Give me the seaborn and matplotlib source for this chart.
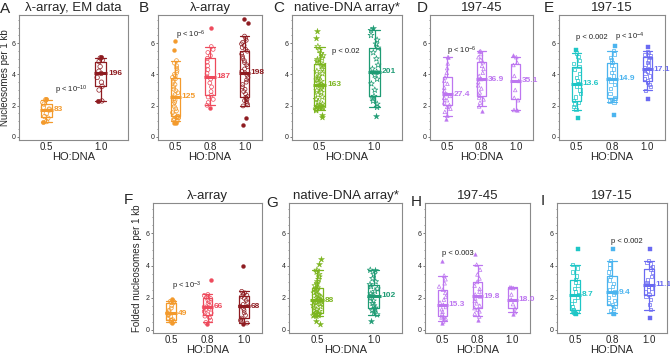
import numpy as np
import pandas as pd
import matplotlib.pyplot as plt
from matplotlib.ticker import MultipleLocator
import seaborn as sns

sns.set_style('white')
plt.rcParams['font.family'] = ['Liberation Sans', 'DejaVu Sans']
plt.rcParams['mathtext.default'] = 'regular'
np.random.seed(3)

# ---------------- data (nucleosomes per 1 kb) ----------------
ratios2 = ['0.5', '1.0']
ratios3 = ['0.5', '0.8', '1.0']

# A: lambda-array, EM data
a_05 = [0.97, 0.98, 1.2, 1.3, 1.5, 1.72, 1.78, 1.9, 2.1, 2.2, 2.38, 2.42]
a_10 = [2.29, 2.3, 3.0, 3.24, 3.5, 3.8, 4.06, 4.2, 4.5, 4.82, 4.9, 5.05, 5.12]
a_n = ['83', '196']

# B: lambda-array
b_05 = [0.88, 0.92, 1.0, 1.05, 1.1, 1.15, 1.2, 1.24, 1.27, 1.3, 1.33, 1.42, 1.55, 1.66,
        1.8, 1.95, 2.1, 2.22, 2.35, 2.45, 2.56, 2.7, 2.82, 2.95, 3.05, 3.2, 3.35, 3.5,
        3.62, 3.72, 3.8, 3.9, 4.0, 4.12, 4.25, 4.4, 4.55, 4.72, 4.88, 5.53, 6.13]
b_08 = [1.87, 2.02, 2.2, 2.4, 2.55, 2.67, 2.9, 3.2, 3.45, 3.7, 3.85, 4.05, 4.3, 4.55,
        4.8, 5.03, 5.2, 5.4, 5.6, 5.78, 6.97]
b_10 = [0.73, 1.23, 1.98, 2.05, 2.15, 2.25, 2.32, 2.4, 2.46, 2.52, 2.58, 2.75, 2.9, 3.05,
        3.2, 3.35, 3.5, 3.65, 3.8, 3.95, 4.09, 4.2, 4.35, 4.5, 4.62, 4.75, 4.88, 5.02,
        5.15, 5.3, 5.48, 5.6, 5.72, 5.85, 5.95, 6.05, 6.18, 6.3, 6.45, 7.31, 7.57]
b_n = ['125', '187', '198']

# C: native-DNA array
c_05 = [1.26, 1.4, 1.69, 1.74, 1.8, 1.84, 1.88, 1.91, 1.94, 1.97, 1.99, 2.1, 2.25, 2.4,
        2.55, 2.7, 2.85, 2.98, 3.1, 3.22, 3.35, 3.45, 3.55, 3.65, 3.78, 3.9, 4.05, 4.2,
        4.35, 4.5, 4.65, 4.75, 4.85, 4.95, 5.05, 5.2, 5.35, 5.55, 5.78, 6.32, 6.77]
c_10 = [1.36, 1.9, 2.1, 2.3, 2.45, 2.6, 3.0, 3.4, 3.7, 3.95, 4.16, 4.35, 4.6, 5.0, 5.4,
        5.69, 5.95, 6.2, 6.5, 6.82, 7.0]
c_n = ['163', '201']

# D: 197-45
d_05 = [1.13, 1.35, 1.6, 1.8, 1.92, 2.03, 2.2, 2.35, 2.5, 2.62, 2.74, 2.95, 3.15, 3.4,
        3.6, 3.81, 4.1, 4.4, 4.7, 5.1, 5.12]
d_08 = [1.67, 1.95, 2.2, 2.4, 2.52, 2.63, 2.85, 3.1, 3.3, 3.5, 3.7, 3.9, 4.1, 4.35, 4.55,
        4.78, 4.95, 5.1, 5.3, 5.48, 5.5]
d_10 = [1.7, 1.72, 2.35, 2.5, 3.0, 3.58, 3.9, 4.6, 4.75, 5.1, 5.22]
d_n = ['27.4', '36.9', '35.1']

# E: 197-15
e_05 = [1.19, 1.73, 1.95, 2.1, 2.2, 2.32, 2.55, 2.8, 3.0, 3.2, 3.4, 3.6, 3.8, 4.05, 4.3,
        4.48, 4.7, 4.9, 5.15, 5.37, 5.58]
e_08 = [1.41, 2.23, 2.3, 2.38, 2.44, 2.49, 2.8, 3.1, 3.35, 3.55, 3.72, 3.9, 4.1, 4.35,
        4.55, 4.76, 4.95, 5.1, 5.3, 5.52, 5.8]
e_10 = [2.45, 2.99, 3.2, 3.35, 3.47, 3.57, 3.75, 3.9, 4.05, 4.2, 4.33, 4.45, 4.6, 4.75,
        4.92, 5.09, 5.18, 5.27, 5.38, 5.48, 5.78]
e_n = ['13.6', '14.9', '17.1']

# F: lambda-array, folded nucleosomes
f_05 = [0.4, 0.46, 0.52, 0.57, 0.6, 0.63, 0.72, 0.82, 0.9, 0.97, 1.04, 1.12, 1.22, 1.35,
        1.5, 1.67, 1.7, 1.74, 1.78, 1.81, 1.9]
f_08 = [0.35, 0.46, 0.6, 0.75, 0.85, 0.94, 1.05, 1.15, 1.25, 1.33, 1.42, 1.52, 1.62,
        1.75, 1.85, 1.95, 2.02, 2.08, 2.14, 2.2, 3.12]
f_10 = [0.36, 0.42, 0.5, 0.58, 0.65, 0.73, 0.9, 1.05, 1.2, 1.33, 1.46, 1.58, 1.7, 1.83,
        1.96, 2.08, 2.15, 2.22, 2.3, 2.4, 3.98]
f_n = ['49', '66', '68']

# G: native-DNA array, folded
g_05 = [0.35, 0.55, 0.85, 0.88, 0.9, 0.93, 0.95, 0.98, 1.0, 1.02, 1.05, 1.15, 1.25, 1.35,
        1.45, 1.52, 1.6, 1.68, 1.74, 1.8, 1.84, 1.9, 1.98, 2.05, 2.12, 2.2, 2.3, 2.4,
        2.48, 2.55, 2.62, 2.75, 2.88, 3.0, 3.15, 3.3, 3.45, 3.6, 3.72, 4.1, 4.4]
g_10 = [0.52, 0.94, 1.1, 1.2, 1.3, 1.36, 1.5, 1.65, 1.8, 1.98, 2.13, 2.25, 2.4, 2.55, 2.7,
        2.82, 3.0, 3.2, 3.45, 3.72, 3.75]
g_n = ['88', '102']

# H: 197-45, folded
h_05 = [0.4, 0.52, 0.62, 0.7, 0.77, 0.83, 0.98, 1.12, 1.28, 1.42, 1.56, 1.7, 1.88, 2.05,
        2.3, 2.5, 2.7, 2.9, 3.15, 3.38, 4.31]
h_08 = [0.62, 0.83, 1.0, 1.15, 1.25, 1.35, 1.5, 1.65, 1.8, 1.95, 2.08, 2.2, 2.38, 2.55,
        2.75, 2.98, 3.2, 3.45, 3.75, 4.06, 4.75]
h_10 = [1.0, 1.1, 1.35, 1.6, 1.88, 2.2, 2.6, 2.64, 2.68]
h_n = ['15.3', '19.8', '18.0']

# I: 197-15, folded
i_05 = [1.0, 1.04, 1.1, 1.15, 1.2, 1.25, 1.45, 1.65, 1.85, 2.0, 2.19, 2.35, 2.55, 2.75,
        2.95, 3.12, 3.35, 3.6, 3.85, 4.06, 5.06]
i_08 = [1.0, 1.04, 1.2, 1.35, 1.45, 1.56, 1.7, 1.85, 2.0, 2.2, 2.35, 2.5, 2.7, 2.9, 3.1,
        3.33, 3.6, 3.85, 4.1, 4.31, 5.06]
i_10 = [0.75, 1.25, 1.6, 1.9, 2.05, 2.19, 2.35, 2.48, 2.6, 2.7, 2.81, 2.95, 3.1, 3.3,
        3.55, 3.79, 3.95, 4.1, 4.2, 4.31, 5.06]
i_n = ['8.7', '9.4', '11.1']

# colours
orange, red, darkred = '#f39a2c', '#ee4a5c', '#8e1b20'
green, teal = '#7cb51f', '#1e9b74'
purple = '#bd76f0'
cyan, ltblue, blue = '#1ec6c6', '#4bb4ef', '#6a6af2'

panels = [
    dict(letter='A', lpos=(5, 9), title='λ-array, EM data', cats=ratios2, groups=[a_05, a_10], n=a_n,
         colors=[orange, darkred], marker='o', ms=3.2, pv=[(0.46, 2.95, 'p < 10$^{-10}$')],
         box=(19, 15, 128, 140), ylabel='Nucleosomes per 1 kb', ylx=10),
    dict(letter='B', lpos=(144, 8), title='λ-array', cats=ratios3, groups=[b_05, b_08, b_10], n=b_n,
         colors=[orange, red, darkred], marker='o', ms=2.8, pv=[(0.45, 6.5, 'p < 10$^{-6}$')],
         box=(158, 15, 262, 140)),
    dict(letter='C', lpos=(279, 8), title='native-DNA array*', cats=ratios2, groups=[c_05, c_10], n=c_n,
         colors=[green, teal], marker='*', ms=4.5, pv=[(0.48, 5.48, 'p < 0.02')],
         box=(292, 15, 402, 140)),
    dict(letter='D', lpos=(422, 8), title='197-45', cats=ratios3, groups=[d_05, d_08, d_10], n=d_n,
         colors=[purple] * 3, marker='^', ms=2.6, pv=[(0.43, 5.48, 'p < 10$^{-6}$')],
         box=(430, 15, 533, 140)),
    dict(letter='E', lpos=(549, 8), title='197-15', cats=ratios3, groups=[e_05, e_08, e_10], n=e_n,
         colors=[cyan, ltblue, blue], marker='s', ms=2.3,
         pv=[(0.43, 6.39, 'p < 0.002'), (1.51, 6.39, 'p < 10$^{-4}$')],
         box=(559, 15, 665, 140)),
    dict(letter='F', lpos=(128, 200), title='λ-array', cats=ratios3, groups=[f_05, f_08, f_10], n=f_n,
         colors=[orange, red, darkred], marker='o', ms=2.8, pv=[(0.44, 2.71, 'p < 10$^{-3}$')],
         box=(153, 203, 262, 333), ylabel='Folded nucleosomes per 1 kb', ylx=142),
    dict(letter='G', lpos=(272, 203), title='native-DNA array*', cats=ratios2, groups=[g_05, g_10], n=g_n,
         colors=[green, teal], marker='*', ms=4.5, pv=[],
         box=(289, 203, 402, 333)),
    dict(letter='H', lpos=(416, 202), title='197-45', cats=ratios3, groups=[h_05, h_08, h_10], n=h_n,
         colors=[purple] * 3, marker='^', ms=2.6, pv=[(0.44, 4.75, 'p < 0.003')],
         box=(425, 203, 530, 333)),
    dict(letter='I', lpos=(543, 201), title='197-15', cats=ratios3, groups=[i_05, i_08, i_10], n=i_n,
         colors=[cyan, ltblue, blue], marker='s', ms=2.3, pv=[(1.41, 5.52, 'p < 0.002')],
         box=(557, 203, 667, 333)),
]

W, H = 670, 354
fig = plt.figure(figsize=(W / 100, H / 100), dpi=100)
spine_c = '#8a8a8a'

for p in panels:
    x0, y0, x1, y1 = p['box']
    ax = fig.add_axes([x0 / W, 1 - y1 / H, (x1 - x0) / W, (y1 - y0) / H])
    k = len(p['cats'])
    order = list(range(k))
    bw = 0.2 if k == 2 else 0.27
    jit = 0.07 if k == 2 else 0.1

    for i, (vals, col, lab) in enumerate(zip(p['groups'], p['colors'], p['n'])):
        d = pd.DataFrame({'pos': i, 'val': vals})
        lo, hi = np.percentile(vals, [5, 95])
        d['out'] = (d['val'] < lo) | (d['val'] > hi)
        med = np.median(vals)
        sns.boxplot(data=d, x='pos', y='val', order=order, color=col, fill=False, width=bw,
                    whis=(5, 95), showfliers=False, linewidth=0.9, capwidths=bw,
                    medianprops={'linewidth': 0}, ax=ax)
        # thick median bar, a bit wider than the box
        ax.hlines(med, i - bw * 0.6, i + bw * 0.6, color=col, linewidth=2.2, zorder=4)
        sns.stripplot(data=d[~d['out']], x='pos', y='val', order=order, color=col,
                      marker=p['marker'], size=p['ms'], jitter=jit, linewidth=0.5,
                      edgecolor=col, facecolor='none', ax=ax)
        if d['out'].any():
            sns.stripplot(data=d[d['out']], x='pos', y='val', order=order, color=col,
                          marker=p['marker'], size=p['ms'], jitter=jit, linewidth=0.3,
                          edgecolor=col, ax=ax)
        ax.text(i + bw * 0.6 + 0.015, med, lab, color=col, fontsize=6,
                fontweight='bold', ha='left', va='center')

    for (px, py, s) in p['pv']:
        ax.text(px, py, s, fontsize=5.5, ha='center', va='center', color='#222222')

    ax.set_xlim(-0.5, k - 0.5)
    ax.set_ylim(-0.2, 7.8 if y0 < 100 else 7.9)
    ax.set_xticks(np.arange(-0.5, k), labels=[''] * (k + 1))
    ax.set_xticks(order, labels=p['cats'], minor=True)
    ax.tick_params(axis='x', which='major', direction='inout', length=7, width=0.8, color='#666666')
    ax.tick_params(axis='x', which='minor', length=0, labelsize=7, pad=1.5)
    ax.yaxis.set_major_locator(MultipleLocator(2))
    ax.yaxis.set_minor_locator(MultipleLocator(0.5))
    ax.tick_params(axis='y', which='major', direction='out', length=1.5, width=0.6,
                   labelsize=5, pad=0.8, color='#666666', left=True)
    ax.tick_params(axis='y', which='minor', direction='out', length=1.0, width=0.5,
                   color='#666666', left=True)
    for sp in ax.spines.values():
        sp.set_color(spine_c)
        sp.set_linewidth(0.8)
    ax.set_xlabel('HO:DNA', fontsize=8, labelpad=0)
    if 'ylabel' in p:
        ax.set_ylabel(p['ylabel'], fontsize=7)
        ax.yaxis.set_label_coords((p['ylx'] - x0) / (x1 - x0), 0.5)
    else:
        ax.set_ylabel('')
    ax.set_title(p['title'], fontsize=9.5, pad=3)
    fig.text(p['lpos'][0] / W, 1 - p['lpos'][1] / H, p['letter'], fontsize=11,
             ha='center', va='center')

fig.savefig('out.png', dpi=100)
